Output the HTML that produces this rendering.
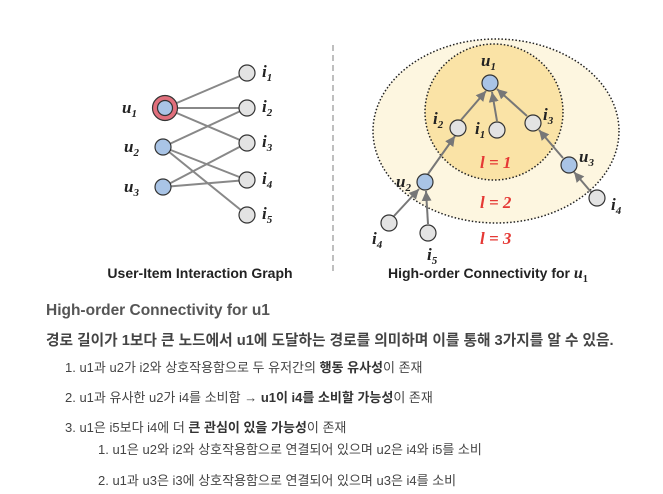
<!DOCTYPE html>
<html><head><meta charset="utf-8"><style>
body{margin:0;width:663px;height:494px;background:#fff;position:relative;overflow:hidden;font-family:"Liberation Sans","Noto Sans CJK KR",sans-serif;color:#444}
.t{position:absolute;white-space:nowrap}
b{color:#333}
</style></head><body>
<svg width="663" height="290" style="position:absolute;left:0;top:0" font-family="Liberation Serif,serif">
<defs><marker id="a" markerWidth="6" markerHeight="6" refX="5" refY="3" orient="auto"><path d="M0,0.5 L5,3 L0,5.5z" fill="#777"/></marker></defs>
<g stroke="#888" stroke-width="2">
<line x1="165" y1="108" x2="247" y2="73"/><line x1="165" y1="108" x2="247" y2="108"/><line x1="165" y1="108" x2="247" y2="143"/>
<line x1="163" y1="147" x2="247" y2="108"/><line x1="163" y1="147" x2="247" y2="180"/><line x1="163" y1="147" x2="247" y2="215"/>
<line x1="163" y1="187" x2="247" y2="143"/><line x1="163" y1="187" x2="247" y2="180"/>
</g>
<circle cx="165" cy="108" r="12.5" fill="#e06f7c" stroke="#333" stroke-width="1.2"/>
<circle cx="165" cy="108" r="7.5" fill="#a9c4e6" stroke="#333" stroke-width="1.2"/>
<g fill="#a9c4e6" stroke="#333" stroke-width="1.2"><circle cx="163" cy="147" r="8"/><circle cx="163" cy="187" r="8"/></g>
<g fill="#e3e3e3" stroke="#333" stroke-width="1.2"><circle cx="247" cy="73" r="8"/><circle cx="247" cy="108" r="8"/><circle cx="247" cy="143" r="8"/><circle cx="247" cy="180" r="8"/><circle cx="247" cy="215" r="8"/></g>
<g font-size="17" font-weight="bold" font-style="italic" fill="#222">
<text x="122" y="113">u<tspan font-size="11" dy="4">1</tspan></text>
<text x="124" y="152">u<tspan font-size="11" dy="4">2</tspan></text>
<text x="124" y="192">u<tspan font-size="11" dy="4">3</tspan></text>
<text x="262" y="77">i<tspan font-size="11" dy="4">1</tspan></text>
<text x="262" y="112">i<tspan font-size="11" dy="4">2</tspan></text>
<text x="262" y="147">i<tspan font-size="11" dy="4">3</tspan></text>
<text x="262" y="184">i<tspan font-size="11" dy="4">4</tspan></text>
<text x="262" y="219">i<tspan font-size="11" dy="4">5</tspan></text>
</g>
<line x1="333" y1="45" x2="333" y2="272" stroke="#aaa" stroke-width="1.5" stroke-dasharray="6,4"/>
<ellipse cx="496" cy="131" rx="123" ry="92" fill="#fdf6e0" stroke="#222" stroke-width="1.5" stroke-dasharray="1.5,2"/>
<ellipse cx="494" cy="112" rx="69" ry="68" fill="#fae3a6" stroke="#222" stroke-width="1.5" stroke-dasharray="1.5,2"/>
<g stroke="#777" stroke-width="2" marker-end="url(#a)">
<line x1="461" y1="120" x2="486" y2="91"/><line x1="497" y1="121" x2="492" y2="92"/><line x1="527" y1="116" x2="497" y2="89"/>
<line x1="428" y1="174" x2="455" y2="136"/><line x1="563" y1="158" x2="539" y2="130"/>
<line x1="394" y1="216" x2="419" y2="189"/><line x1="428" y1="224" x2="426" y2="191"/><line x1="591" y1="192" x2="574" y2="172"/>
</g>
<g fill="#a9c4e6" stroke="#333" stroke-width="1.2"><circle cx="490" cy="83" r="8"/><circle cx="569" cy="165" r="8"/><circle cx="425" cy="182" r="8"/></g>
<g fill="#e3e3e3" stroke="#333" stroke-width="1.2"><circle cx="458" cy="128" r="8"/><circle cx="497" cy="130" r="8"/><circle cx="533" cy="123" r="8"/><circle cx="389" cy="223" r="8"/><circle cx="428" cy="233" r="8"/><circle cx="597" cy="198" r="8"/></g>
<g font-size="17" font-weight="bold" font-style="italic" fill="#222">
<text x="481" y="66">u<tspan font-size="11" dy="4">1</tspan></text>
<text x="433" y="124">i<tspan font-size="11" dy="4">2</tspan></text>
<text x="475" y="134">i<tspan font-size="11" dy="4">1</tspan></text>
<text x="543" y="120">i<tspan font-size="11" dy="4">3</tspan></text>
<text x="579" y="162">u<tspan font-size="11" dy="4">3</tspan></text>
<text x="396" y="187">u<tspan font-size="11" dy="4">2</tspan></text>
<text x="372" y="244">i<tspan font-size="11" dy="4">4</tspan></text>
<text x="427" y="260">i<tspan font-size="11" dy="4">5</tspan></text>
<text x="611" y="210">i<tspan font-size="11" dy="4">4</tspan></text>
</g>
<g font-size="17" font-weight="bold" font-style="italic" fill="#e53935">
<text x="480" y="168">l = 1</text><text x="480" y="208">l = 2</text><text x="480" y="244">l = 3</text>
</g>
<g font-family="Liberation Sans,sans-serif" font-size="14" font-weight="bold" fill="#222">
<text x="200" y="278" text-anchor="middle">User-Item Interaction Graph</text>
<text x="388" y="278">High-order Connectivity for <tspan font-family="Liberation Serif,serif" font-style="italic" font-size="16">u</tspan><tspan font-family="Liberation Serif,serif" font-size="10" dy="4">1</tspan></text>
</g>
</svg>
<div class="t" style="left:46px;top:302px;font-size:15.5px;font-weight:bold;color:#555">High-order Connectivity for u1</div>
<div class="t" style="left:46px;top:329px;font-size:14.7px;font-weight:bold;color:#444">경로 길이가 1보다 큰 노드에서 u1에 도달하는 경로를 의미하며 이를 통해 3가지를 알 수 있음.</div>
<div class="t" style="left:65px;top:357px;font-size:13px">1. u1과 u2가 i2와 상호작용함으로 두 유저간의 <b>행동 유사성</b>이 존재</div>
<div class="t" style="left:65px;top:387px;font-size:13px">2. u1과 유사한 u2가 i4를 소비함 → <b>u1이 i4를 소비할 가능성</b>이 존재</div>
<div class="t" style="left:65px;top:417px;font-size:13px">3. u1은 i5보다 i4에 더 <b>큰 관심이 있을 가능성</b>이 존재</div>
<div class="t" style="left:98px;top:439px;font-size:13px">1. u1은 u2와 i2와 상호작용함으로 연결되어 있으며 u2은 i4와 i5를 소비</div>
<div class="t" style="left:98px;top:470px;font-size:13px">2. u1과 u3은 i3에 상호작용함으로 연결되어 있으며 u3은 i4를 소비</div>
</body></html>
